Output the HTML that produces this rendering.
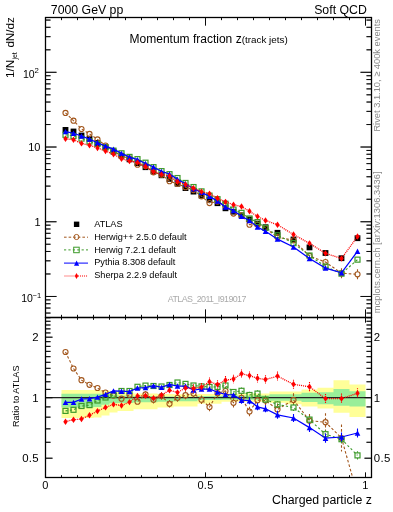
<!DOCTYPE html>
<html><head><meta charset="utf-8"><style>
html,body{margin:0;padding:0;background:#fff;width:393px;height:512px;overflow:hidden}
svg{display:block;will-change:transform}
text{-webkit-font-smoothing:antialiased}
</style></head><body>
<svg width="393" height="512" viewBox="0 0 393 512">
<path d="M45.50 17.5v8M45.50 317.5v-8M45.50 317.5v5M45.50 477.5v-5M61.50 17.5v2.6M61.50 317.5v-2.6M61.50 317.5v2.2M61.50 477.5v-2.2M77.50 17.5v2.6M77.50 317.5v-2.6M77.50 317.5v2.2M77.50 477.5v-2.2M93.50 17.5v2.6M93.50 317.5v-2.6M93.50 317.5v2.2M93.50 477.5v-2.2M109.50 17.5v2.6M109.50 317.5v-2.6M109.50 317.5v2.2M109.50 477.5v-2.2M125.50 17.5v2.6M125.50 317.5v-2.6M125.50 317.5v2.2M125.50 477.5v-2.2M141.50 17.5v2.6M141.50 317.5v-2.6M141.50 317.5v2.2M141.50 477.5v-2.2M157.50 17.5v2.6M157.50 317.5v-2.6M157.50 317.5v2.2M157.50 477.5v-2.2M173.50 17.5v2.6M173.50 317.5v-2.6M173.50 317.5v2.2M173.50 477.5v-2.2M189.50 17.5v2.6M189.50 317.5v-2.6M189.50 317.5v2.2M189.50 477.5v-2.2M205.50 17.5v8M205.50 317.5v-8M205.50 317.5v5M205.50 477.5v-5M221.50 17.5v2.6M221.50 317.5v-2.6M221.50 317.5v2.2M221.50 477.5v-2.2M237.50 17.5v2.6M237.50 317.5v-2.6M237.50 317.5v2.2M237.50 477.5v-2.2M253.50 17.5v2.6M253.50 317.5v-2.6M253.50 317.5v2.2M253.50 477.5v-2.2M269.50 17.5v2.6M269.50 317.5v-2.6M269.50 317.5v2.2M269.50 477.5v-2.2M285.50 17.5v2.6M285.50 317.5v-2.6M285.50 317.5v2.2M285.50 477.5v-2.2M301.50 17.5v2.6M301.50 317.5v-2.6M301.50 317.5v2.2M301.50 477.5v-2.2M317.50 17.5v2.6M317.50 317.5v-2.6M317.50 317.5v2.2M317.50 477.5v-2.2M333.50 17.5v2.6M333.50 317.5v-2.6M333.50 317.5v2.2M333.50 477.5v-2.2M349.50 17.5v2.6M349.50 317.5v-2.6M349.50 317.5v2.2M349.50 477.5v-2.2M365.50 17.5v8M365.50 317.5v-8M365.50 317.5v5M365.50 477.5v-5M45.5 313.05h5M371.5 313.05h-5M45.5 308.04h5M371.5 308.04h-5M45.5 303.71h5M371.5 303.71h-5M45.5 299.89h5M371.5 299.89h-5M45.5 296.47h11M371.5 296.47h-11M45.5 273.98h5M371.5 273.98h-5M45.5 260.82h5M371.5 260.82h-5M45.5 251.48h5M371.5 251.48h-5M45.5 244.24h5M371.5 244.24h-5M45.5 238.33h5M371.5 238.33h-5M45.5 233.32h5M371.5 233.32h-5M45.5 228.99h5M371.5 228.99h-5M45.5 225.17h5M371.5 225.17h-5M45.5 221.75h11M371.5 221.75h-11M45.5 199.26h5M371.5 199.26h-5M45.5 186.10h5M371.5 186.10h-5M45.5 176.76h5M371.5 176.76h-5M45.5 169.52h5M371.5 169.52h-5M45.5 163.61h5M371.5 163.61h-5M45.5 158.60h5M371.5 158.60h-5M45.5 154.27h5M371.5 154.27h-5M45.5 150.45h5M371.5 150.45h-5M45.5 147.03h11M371.5 147.03h-11M45.5 124.54h5M371.5 124.54h-5M45.5 111.38h5M371.5 111.38h-5M45.5 102.04h5M371.5 102.04h-5M45.5 94.80h5M371.5 94.80h-5M45.5 88.89h5M371.5 88.89h-5M45.5 83.88h5M371.5 83.88h-5M45.5 79.55h5M371.5 79.55h-5M45.5 75.73h5M371.5 75.73h-5M45.5 72.31h11M371.5 72.31h-11M45.5 49.82h5M371.5 49.82h-5M45.5 36.66h5M371.5 36.66h-5M45.5 27.32h5M371.5 27.32h-5M45.5 20.08h5M371.5 20.08h-5M45.5 458.21h7M371.5 458.21h-7M45.5 442.29h5M371.5 442.29h-5M45.5 428.84h5M371.5 428.84h-5M45.5 417.18h5M371.5 417.18h-5M45.5 406.90h5M371.5 406.90h-5M45.5 397.70h7M371.5 397.70h-7M45.5 389.38h5M371.5 389.38h-5M45.5 381.78h5M371.5 381.78h-5M45.5 374.80h5M371.5 374.80h-5M45.5 368.33h5M371.5 368.33h-5M45.5 362.31h5M371.5 362.31h-5M45.5 356.67h5M371.5 356.67h-5M45.5 351.38h5M371.5 351.38h-5M45.5 346.39h5M371.5 346.39h-5M45.5 341.67h5M371.5 341.67h-5M45.5 337.19h7M371.5 337.19h-7M45.5 332.93h5M371.5 332.93h-5M45.5 328.87h5M371.5 328.87h-5M45.5 324.99h5M371.5 324.99h-5M45.5 321.28h5M371.5 321.28h-5M45.5 317.71h5M371.5 317.71h-5" stroke="#000" stroke-width="0.8" fill="none"/>
<rect x="45.5" y="17.5" width="326.0" height="300.0" fill="none" stroke="#000" stroke-width="1.15"/>
<rect x="45.5" y="317.5" width="326.0" height="160.0" fill="none" stroke="#000" stroke-width="1.15"/>
<text x="50.8" y="14.1" font-size="12.3" font-family="Liberation Sans, sans-serif">7000 GeV pp</text>
<text x="366.8" y="14.1" font-size="12.3" text-anchor="end" font-family="Liberation Sans, sans-serif">Soft QCD</text>
<text x="129.6" y="42.9" font-size="12" font-family="Liberation Sans, sans-serif">Momentum fraction z<tspan font-size="9.9" dy="0.2">(track jets)</tspan></text>
<text transform="translate(14.0,17.3) rotate(-90)" font-size="11.6" text-anchor="end" font-family="Liberation Sans, sans-serif">1/N<tspan font-size="7" dy="2.6" dx="0.3">jet</tspan><tspan dy="-2.6" dx="4.6">dN/dz</tspan></text>
<text x="34.6" y="77.8" font-size="10.5" text-anchor="end" font-family="Liberation Sans, sans-serif">10</text><text x="34.6" y="72.9" font-size="7.8" font-family="Liberation Sans, sans-serif">2</text>
<text x="40.5" y="151" font-size="11" text-anchor="end" font-family="Liberation Sans, sans-serif">10</text>
<text x="40.5" y="225.9" font-size="11" text-anchor="end" font-family="Liberation Sans, sans-serif">1</text>
<text x="32.9" y="301.9" font-size="10.5" text-anchor="end" font-family="Liberation Sans, sans-serif">10</text><text x="32.5" y="297.6" font-size="7.5" font-family="Liberation Sans, sans-serif">&#8722;1</text>
<text x="38.9" y="341.4" font-size="11.4" text-anchor="end" letter-spacing="0.3" font-family="Liberation Sans, sans-serif">2</text>
<text x="373.8" y="341.4" font-size="11.4" letter-spacing="0.3" font-family="Liberation Sans, sans-serif">2</text>
<text x="38.9" y="401.9" font-size="11.4" text-anchor="end" letter-spacing="0.3" font-family="Liberation Sans, sans-serif">1</text>
<text x="373.8" y="401.9" font-size="11.4" letter-spacing="0.3" font-family="Liberation Sans, sans-serif">1</text>
<text x="38.9" y="462.4" font-size="11.4" text-anchor="end" letter-spacing="0.3" font-family="Liberation Sans, sans-serif">0.5</text>
<text x="373.8" y="462.4" font-size="11.4" letter-spacing="0.3" font-family="Liberation Sans, sans-serif">0.5</text>
<text transform="translate(19,427) rotate(-90)" font-size="9.1" font-family="Liberation Sans, sans-serif">Ratio to ATLAS</text>
<text x="45.5" y="489.2" font-size="11" text-anchor="middle" letter-spacing="0.3" font-family="Liberation Sans, sans-serif">0</text>
<text x="205.5" y="489.2" font-size="11" text-anchor="middle" letter-spacing="0.3" font-family="Liberation Sans, sans-serif">0.5</text>
<text x="365.5" y="489.2" font-size="11" text-anchor="middle" letter-spacing="0.3" font-family="Liberation Sans, sans-serif">1</text>
<text x="371.8" y="503.9" font-size="12.3" text-anchor="end" font-family="Liberation Sans, sans-serif">Charged particle z</text>
<text transform="translate(380.3,19) rotate(-90)" font-size="9.3" text-anchor="end" fill="#888" font-family="Liberation Sans, sans-serif">Rivet 3.1.10, &#8805; 400k events</text>
<text transform="translate(380.3,171.5) rotate(-90)" font-size="9.4" text-anchor="end" fill="#888" font-family="Liberation Sans, sans-serif">mcplots.cern.ch [arXiv:1306.3436]</text>
<text x="167.8" y="302.1" font-size="8.9" textLength="78.6" lengthAdjust="spacing" fill="#aaa" font-family="Liberation Sans, sans-serif">ATLAS_2011_I919017</text>
<defs><clipPath id="cm"><rect x="45.5" y="17.5" width="326" height="300"/></clipPath><clipPath id="cr"><rect x="45.5" y="317.5" width="326" height="160"/></clipPath></defs>
<path d="M61.50 390.0H69.50V418.0H61.50ZM69.50 390.0H77.50V418.0H69.50ZM77.50 390.0H85.50V418.0H77.50ZM85.50 390.0H93.50V418.0H85.50ZM93.50 390.0H101.50V417.5H93.50ZM101.50 390.5H109.50V415.5H101.50ZM109.50 391.0H117.50V412.5H109.50ZM117.50 392.5H125.50V411.0H117.50ZM125.50 392.5H133.50V411.0H125.50ZM133.50 393.4H141.50V409.3H133.50ZM141.50 393.4H149.50V409.3H141.50ZM149.50 393.4H157.50V409.3H149.50ZM157.50 394.0H165.50V407.4H157.50ZM165.50 394.0H173.50V407.4H165.50ZM173.50 394.2H181.50V406.4H173.50ZM181.50 394.2H189.50V406.4H181.50ZM189.50 394.2H197.50V406.4H189.50ZM197.50 394.0H205.50V403.8H197.50ZM205.50 394.0H213.50V403.8H205.50ZM213.50 394.0H221.50V403.8H213.50ZM221.50 393.5H229.50V401.8H221.50ZM229.50 393.5H237.50V401.8H229.50ZM237.50 393.5H245.50V401.8H237.50ZM245.50 393.5H253.50V401.8H245.50ZM253.50 393.5H261.50V401.8H253.50ZM261.50 393.5H269.50V401.8H261.50ZM269.50 391.4H285.50V402.8H269.50ZM285.50 391.4H301.50V404.2H285.50ZM301.50 389.4H317.50V406.5H301.50ZM317.50 387.7H333.50V408.5H317.50ZM333.50 380.2H349.50V412.7H333.50ZM349.50 384.5H365.50V417.0H349.50Z" fill="#ffff99"/>
<path d="M61.50 393.8H69.50V407.5H61.50ZM69.50 393.8H77.50V407.5H69.50ZM77.50 393.8H85.50V407.5H77.50ZM85.50 393.8H93.50V407.5H85.50ZM93.50 393.8H101.50V406.9H93.50ZM101.50 394.0H109.50V404.8H101.50ZM109.50 394.5H117.50V403.3H109.50ZM117.50 395.5H125.50V403.0H117.50ZM125.50 395.5H133.50V403.0H125.50ZM133.50 395.9H141.50V402.3H133.50ZM141.50 395.9H149.50V402.3H141.50ZM149.50 395.9H157.50V402.3H149.50ZM157.50 396.5H165.50V401.7H157.50ZM165.50 396.5H173.50V401.7H165.50ZM173.50 396.8H181.50V401.3H173.50ZM181.50 396.8H189.50V401.3H181.50ZM189.50 396.8H197.50V401.3H189.50ZM197.50 396.0H205.50V400.0H197.50ZM205.50 396.0H213.50V400.0H205.50ZM213.50 396.0H221.50V400.0H213.50ZM221.50 395.5H229.50V399.8H221.50ZM229.50 395.5H237.50V399.8H229.50ZM237.50 395.5H245.50V399.8H237.50ZM245.50 395.5H253.50V399.8H245.50ZM253.50 395.5H261.50V399.8H253.50ZM261.50 395.5H269.50V399.8H261.50ZM269.50 394.2H285.50V400.8H269.50ZM285.50 394.2H301.50V400.8H285.50ZM301.50 392.8H317.50V401.9H301.50ZM317.50 392.2H333.50V404.2H317.50ZM333.50 389.0H349.50V405.8H333.50ZM349.50 391.2H365.50V406.5H349.50Z" fill="#99ee99"/>
<path d="M45.5 397.7H371.5" stroke="#222" stroke-width="1.2"/>
<g clip-path="url(#cr)">
<path d="M65.50 352.00 L73.50 368.50 L81.50 380.20 L89.50 384.80 L97.50 388.00 L105.50 392.60 L113.50 395.60 L121.50 398.70 L129.50 394.80 L137.50 401.70 L145.50 394.40 L153.50 399.80 L161.50 396.00 L169.50 403.80 L177.50 397.80 L185.50 395.20 L193.50 393.50 L201.50 399.70 L209.50 407.00 L217.50 393.20 L225.50 391.00 L233.50 402.80 L241.50 397.80 L249.50 411.50 L257.50 400.20 L265.50 400.50 L277.50 409.40 L293.50 399.90 L309.50 420.70 L325.50 422.20 L341.50 438.00 L357.50 494.81" fill="none" stroke="#a2561c" stroke-width="1.1" stroke-dasharray="2.6 2"/>
<path d="M145.50 390.90V391.80M145.50 397.00V397.90M153.50 396.20V397.20M153.50 402.40V403.40M161.50 392.30V393.40M161.50 398.60V399.70M169.50 400.00V401.20M169.50 406.40V407.60M177.50 393.90V395.20M177.50 400.40V401.70M185.50 391.20V392.60M185.50 397.80V399.20M193.50 389.40V390.90M193.50 396.10V397.60M201.50 395.50V397.10M201.50 402.30V403.90M209.50 402.70V404.40M209.50 409.60V411.30M217.50 388.80V390.60M217.50 395.80V397.60M225.50 386.50V388.40M225.50 393.60V395.50M233.50 398.20V400.20M233.50 405.40V407.40M241.50 393.10V395.20M241.50 400.40V402.50M249.50 406.70V408.90M249.50 414.10V416.30M257.50 395.30V397.60M257.50 402.80V405.10M265.50 395.50V397.90M265.50 403.10V405.50M277.50 403.40V406.80M277.50 412.00V415.40M293.50 393.30V397.30M293.50 402.50V406.50M309.50 414.10V418.10M309.50 423.30V427.30M325.50 413.20V419.60M325.50 424.80V431.20M341.50 424.50V435.40M341.50 440.60V451.50M357.50 481.31V492.21M357.50 497.41V508.31" fill="none" stroke="#a2561c" stroke-width="1.1" stroke-dasharray="2.6 2"/>
<g fill="none" stroke="#a2561c" stroke-width="1.1"><circle cx="65.50" cy="352.00" r="2.55"/><circle cx="73.50" cy="368.50" r="2.55"/><circle cx="81.50" cy="380.20" r="2.55"/><circle cx="89.50" cy="384.80" r="2.55"/><circle cx="97.50" cy="388.00" r="2.55"/><circle cx="105.50" cy="392.60" r="2.55"/><circle cx="113.50" cy="395.60" r="2.55"/><circle cx="121.50" cy="398.70" r="2.55"/><circle cx="129.50" cy="394.80" r="2.55"/><circle cx="137.50" cy="401.70" r="2.55"/><circle cx="145.50" cy="394.40" r="2.55"/><circle cx="153.50" cy="399.80" r="2.55"/><circle cx="161.50" cy="396.00" r="2.55"/><circle cx="169.50" cy="403.80" r="2.55"/><circle cx="177.50" cy="397.80" r="2.55"/><circle cx="185.50" cy="395.20" r="2.55"/><circle cx="193.50" cy="393.50" r="2.55"/><circle cx="201.50" cy="399.70" r="2.55"/><circle cx="209.50" cy="407.00" r="2.55"/><circle cx="217.50" cy="393.20" r="2.55"/><circle cx="225.50" cy="391.00" r="2.55"/><circle cx="233.50" cy="402.80" r="2.55"/><circle cx="241.50" cy="397.80" r="2.55"/><circle cx="249.50" cy="411.50" r="2.55"/><circle cx="257.50" cy="400.20" r="2.55"/><circle cx="265.50" cy="400.50" r="2.55"/><circle cx="277.50" cy="409.40" r="2.55"/><circle cx="293.50" cy="399.90" r="2.55"/><circle cx="309.50" cy="420.70" r="2.55"/><circle cx="325.50" cy="422.20" r="2.55"/><circle cx="341.50" cy="438.00" r="2.55"/><circle cx="357.50" cy="494.81" r="2.55"/></g>
</g>
<g clip-path="url(#cr)">
<path d="M65.50 410.90 L73.50 409.80 L81.50 406.00 L89.50 405.10 L97.50 400.50 L105.50 397.50 L113.50 394.90 L121.50 391.00 L129.50 391.00 L137.50 386.80 L145.50 385.60 L153.50 386.00 L161.50 386.50 L169.50 385.00 L177.50 382.50 L185.50 383.90 L193.50 385.50 L201.50 386.40 L209.50 387.00 L217.50 386.90 L225.50 385.50 L233.50 392.00 L241.50 390.80 L249.50 395.00 L257.50 393.60 L265.50 399.50 L277.50 404.40 L293.50 407.50 L309.50 419.60 L325.50 434.20 L341.50 439.20 L357.50 455.40" fill="none" stroke="#3d9a2a" stroke-width="1.1" stroke-dasharray="2.2 2.2"/>
<path d="M241.50 387.50V388.20M241.50 393.40V394.10M249.50 391.70V392.40M249.50 397.60V398.30M257.50 390.30V391.00M257.50 396.20V396.90M265.50 396.20V396.90M265.50 402.10V402.80M277.50 400.90V401.80M277.50 407.00V407.90M293.50 404.00V404.90M293.50 410.10V411.00M309.50 415.80V417.00M309.50 422.20V423.40M325.50 430.20V431.60M325.50 436.80V438.20M341.50 435.20V436.60M341.50 441.80V443.20M357.50 451.20V452.80M357.50 458.00V459.60" fill="none" stroke="#3d9a2a" stroke-width="1.1" stroke-dasharray="2.2 2.2"/>
<g fill="none" stroke="#3d9a2a" stroke-width="1.2"><rect x="63.00" y="408.40" width="5.00" height="5.00"/><rect x="71.00" y="407.30" width="5.00" height="5.00"/><rect x="79.00" y="403.50" width="5.00" height="5.00"/><rect x="87.00" y="402.60" width="5.00" height="5.00"/><rect x="95.00" y="398.00" width="5.00" height="5.00"/><rect x="103.00" y="395.00" width="5.00" height="5.00"/><rect x="111.00" y="392.40" width="5.00" height="5.00"/><rect x="119.00" y="388.50" width="5.00" height="5.00"/><rect x="127.00" y="388.50" width="5.00" height="5.00"/><rect x="135.00" y="384.30" width="5.00" height="5.00"/><rect x="143.00" y="383.10" width="5.00" height="5.00"/><rect x="151.00" y="383.50" width="5.00" height="5.00"/><rect x="159.00" y="384.00" width="5.00" height="5.00"/><rect x="167.00" y="382.50" width="5.00" height="5.00"/><rect x="175.00" y="380.00" width="5.00" height="5.00"/><rect x="183.00" y="381.40" width="5.00" height="5.00"/><rect x="191.00" y="383.00" width="5.00" height="5.00"/><rect x="199.00" y="383.90" width="5.00" height="5.00"/><rect x="207.00" y="384.50" width="5.00" height="5.00"/><rect x="215.00" y="384.40" width="5.00" height="5.00"/><rect x="223.00" y="383.00" width="5.00" height="5.00"/><rect x="231.00" y="389.50" width="5.00" height="5.00"/><rect x="239.00" y="388.30" width="5.00" height="5.00"/><rect x="247.00" y="392.50" width="5.00" height="5.00"/><rect x="255.00" y="391.10" width="5.00" height="5.00"/><rect x="263.00" y="397.00" width="5.00" height="5.00"/><rect x="275.00" y="401.90" width="5.00" height="5.00"/><rect x="291.00" y="405.00" width="5.00" height="5.00"/><rect x="307.00" y="417.10" width="5.00" height="5.00"/><rect x="323.00" y="431.70" width="5.00" height="5.00"/><rect x="339.00" y="436.70" width="5.00" height="5.00"/><rect x="355.00" y="452.90" width="5.00" height="5.00"/></g>
</g>
<g clip-path="url(#cr)">
<path d="M65.50 402.40 L73.50 402.40 L81.50 399.00 L89.50 398.70 L97.50 397.10 L105.50 394.40 L113.50 390.90 L121.50 391.20 L129.50 391.50 L137.50 388.00 L145.50 387.60 L153.50 385.70 L161.50 387.40 L169.50 384.50 L177.50 386.00 L185.50 386.00 L193.50 390.00 L201.50 389.00 L209.50 389.00 L217.50 392.10 L225.50 394.50 L233.50 394.90 L241.50 400.20 L249.50 400.70 L257.50 406.80 L265.50 408.80 L277.50 414.80 L293.50 418.00 L309.50 427.60 L325.50 438.20 L341.50 437.00 L357.50 433.00" fill="none" stroke="#0000ff" stroke-width="1.25" />
<path d="M241.50 396.70V403.70M249.50 397.20V404.20M257.50 403.30V410.30M265.50 405.30V412.30M277.50 410.80V418.80M293.50 414.00V422.00M309.50 423.30V431.90M325.50 433.60V442.80M341.50 432.40V441.60M357.50 428.40V437.60" fill="none" stroke="#0000ff" stroke-width="1.1" />
<g fill="#0000ff"><path d="M65.50 399.70L68.30 405.10L62.70 405.10Z"/><path d="M73.50 399.70L76.30 405.10L70.70 405.10Z"/><path d="M81.50 396.30L84.30 401.70L78.70 401.70Z"/><path d="M89.50 396.00L92.30 401.40L86.70 401.40Z"/><path d="M97.50 394.40L100.30 399.80L94.70 399.80Z"/><path d="M105.50 391.70L108.30 397.10L102.70 397.10Z"/><path d="M113.50 388.20L116.30 393.60L110.70 393.60Z"/><path d="M121.50 388.50L124.30 393.90L118.70 393.90Z"/><path d="M129.50 388.80L132.30 394.20L126.70 394.20Z"/><path d="M137.50 385.30L140.30 390.70L134.70 390.70Z"/><path d="M145.50 384.90L148.30 390.30L142.70 390.30Z"/><path d="M153.50 383.00L156.30 388.40L150.70 388.40Z"/><path d="M161.50 384.70L164.30 390.10L158.70 390.10Z"/><path d="M169.50 381.80L172.30 387.20L166.70 387.20Z"/><path d="M177.50 383.30L180.30 388.70L174.70 388.70Z"/><path d="M185.50 383.30L188.30 388.70L182.70 388.70Z"/><path d="M193.50 387.30L196.30 392.70L190.70 392.70Z"/><path d="M201.50 386.30L204.30 391.70L198.70 391.70Z"/><path d="M209.50 386.30L212.30 391.70L206.70 391.70Z"/><path d="M217.50 389.40L220.30 394.80L214.70 394.80Z"/><path d="M225.50 391.80L228.30 397.20L222.70 397.20Z"/><path d="M233.50 392.20L236.30 397.60L230.70 397.60Z"/><path d="M241.50 397.50L244.30 402.90L238.70 402.90Z"/><path d="M249.50 398.00L252.30 403.40L246.70 403.40Z"/><path d="M257.50 404.10L260.30 409.50L254.70 409.50Z"/><path d="M265.50 406.10L268.30 411.50L262.70 411.50Z"/><path d="M277.50 412.10L280.30 417.50L274.70 417.50Z"/><path d="M293.50 415.30L296.30 420.70L290.70 420.70Z"/><path d="M309.50 424.90L312.30 430.30L306.70 430.30Z"/><path d="M325.50 435.50L328.30 440.90L322.70 440.90Z"/><path d="M341.50 434.30L344.30 439.70L338.70 439.70Z"/><path d="M357.50 430.30L360.30 435.70L354.70 435.70Z"/></g>
</g>
<g clip-path="url(#cr)">
<path d="M65.50 421.70 L73.50 419.70 L81.50 419.00 L89.50 415.20 L97.50 411.10 L105.50 407.40 L113.50 404.40 L121.50 405.50 L129.50 402.10 L137.50 396.00 L145.50 395.80 L153.50 398.20 L161.50 395.20 L169.50 390.20 L177.50 392.50 L185.50 388.00 L193.50 388.50 L201.50 387.10 L209.50 381.70 L217.50 384.50 L225.50 380.30 L233.50 379.00 L241.50 373.70 L249.50 375.60 L257.50 378.30 L265.50 379.50 L277.50 376.10 L293.50 384.30 L309.50 386.80 L325.50 398.60 L341.50 398.60 L357.50 393.30" fill="none" stroke="#ff0000" stroke-width="1.3" stroke-dasharray="1.05 0.95"/>
<path d="M193.50 384.30V392.70M201.50 382.90V391.30M209.50 377.50V385.90M217.50 380.30V388.70M225.50 376.10V384.50M233.50 374.80V383.20M241.50 369.50V377.90M249.50 371.40V379.80M257.50 374.10V382.50M265.50 375.30V383.70M277.50 371.60V380.60M293.50 379.80V388.80M309.50 382.10V391.50M325.50 393.90V403.30M341.50 393.60V403.60M357.50 388.30V398.30" fill="none" stroke="#ff0000" stroke-width="1.1" stroke-dasharray="1.05 0.95"/>
<g fill="#ff0000"><path d="M65.50 418.50L67.70 421.70L65.50 424.90L63.30 421.70Z"/><path d="M73.50 416.50L75.70 419.70L73.50 422.90L71.30 419.70Z"/><path d="M81.50 415.80L83.70 419.00L81.50 422.20L79.30 419.00Z"/><path d="M89.50 412.00L91.70 415.20L89.50 418.40L87.30 415.20Z"/><path d="M97.50 407.90L99.70 411.10L97.50 414.30L95.30 411.10Z"/><path d="M105.50 404.20L107.70 407.40L105.50 410.60L103.30 407.40Z"/><path d="M113.50 401.20L115.70 404.40L113.50 407.60L111.30 404.40Z"/><path d="M121.50 402.30L123.70 405.50L121.50 408.70L119.30 405.50Z"/><path d="M129.50 398.90L131.70 402.10L129.50 405.30L127.30 402.10Z"/><path d="M137.50 392.80L139.70 396.00L137.50 399.20L135.30 396.00Z"/><path d="M145.50 392.60L147.70 395.80L145.50 399.00L143.30 395.80Z"/><path d="M153.50 395.00L155.70 398.20L153.50 401.40L151.30 398.20Z"/><path d="M161.50 392.00L163.70 395.20L161.50 398.40L159.30 395.20Z"/><path d="M169.50 387.00L171.70 390.20L169.50 393.40L167.30 390.20Z"/><path d="M177.50 389.30L179.70 392.50L177.50 395.70L175.30 392.50Z"/><path d="M185.50 384.80L187.70 388.00L185.50 391.20L183.30 388.00Z"/><path d="M193.50 385.30L195.70 388.50L193.50 391.70L191.30 388.50Z"/><path d="M201.50 383.90L203.70 387.10L201.50 390.30L199.30 387.10Z"/><path d="M209.50 378.50L211.70 381.70L209.50 384.90L207.30 381.70Z"/><path d="M217.50 381.30L219.70 384.50L217.50 387.70L215.30 384.50Z"/><path d="M225.50 377.10L227.70 380.30L225.50 383.50L223.30 380.30Z"/><path d="M233.50 375.80L235.70 379.00L233.50 382.20L231.30 379.00Z"/><path d="M241.50 370.50L243.70 373.70L241.50 376.90L239.30 373.70Z"/><path d="M249.50 372.40L251.70 375.60L249.50 378.80L247.30 375.60Z"/><path d="M257.50 375.10L259.70 378.30L257.50 381.50L255.30 378.30Z"/><path d="M265.50 376.30L267.70 379.50L265.50 382.70L263.30 379.50Z"/><path d="M277.50 372.90L279.70 376.10L277.50 379.30L275.30 376.10Z"/><path d="M293.50 381.10L295.70 384.30L293.50 387.50L291.30 384.30Z"/><path d="M309.50 383.60L311.70 386.80L309.50 390.00L307.30 386.80Z"/><path d="M325.50 395.40L327.70 398.60L325.50 401.80L323.30 398.60Z"/><path d="M341.50 395.40L343.70 398.60L341.50 401.80L339.30 398.60Z"/><path d="M357.50 390.10L359.70 393.30L357.50 396.50L355.30 393.30Z"/></g>
</g>
<g clip-path="url(#cm)">
<g fill="#000"><rect x="62.60" y="127.00" width="5.80" height="5.80"/><rect x="70.60" y="128.60" width="5.80" height="5.80"/><rect x="78.60" y="132.60" width="5.80" height="5.80"/><rect x="86.60" y="135.80" width="5.80" height="5.80"/><rect x="94.60" y="140.10" width="5.80" height="5.80"/><rect x="102.60" y="144.50" width="5.80" height="5.80"/><rect x="110.60" y="148.80" width="5.80" height="5.80"/><rect x="118.60" y="152.90" width="5.80" height="5.80"/><rect x="126.60" y="156.50" width="5.80" height="5.80"/><rect x="134.60" y="160.30" width="5.80" height="5.80"/><rect x="142.60" y="164.30" width="5.80" height="5.80"/><rect x="150.60" y="168.60" width="5.80" height="5.80"/><rect x="158.60" y="172.40" width="5.80" height="5.80"/><rect x="166.60" y="176.00" width="5.80" height="5.80"/><rect x="174.60" y="180.80" width="5.80" height="5.80"/><rect x="182.60" y="185.20" width="5.80" height="5.80"/><rect x="190.60" y="188.70" width="5.80" height="5.80"/><rect x="198.60" y="192.70" width="5.80" height="5.80"/><rect x="206.60" y="196.70" width="5.80" height="5.80"/><rect x="214.60" y="200.30" width="5.80" height="5.80"/><rect x="222.60" y="205.40" width="5.80" height="5.80"/><rect x="230.60" y="208.80" width="5.80" height="5.80"/><rect x="238.60" y="212.50" width="5.80" height="5.80"/><rect x="246.60" y="216.60" width="5.80" height="5.80"/><rect x="254.60" y="220.70" width="5.80" height="5.80"/><rect x="262.60" y="224.30" width="5.80" height="5.80"/><rect x="274.60" y="229.90" width="5.80" height="5.80"/><rect x="290.60" y="236.60" width="5.80" height="5.80"/><rect x="306.60" y="244.50" width="5.80" height="5.80"/><rect x="322.60" y="250.10" width="5.80" height="5.80"/><rect x="338.60" y="255.30" width="5.80" height="5.80"/><rect x="354.60" y="235.30" width="5.80" height="5.80"/></g>
</g>
<g clip-path="url(#cm)">
<path d="M65.50 112.91 L73.50 120.65 L81.50 128.99 L89.50 133.90 L97.50 139.39 L105.50 145.50 L113.50 150.92 L121.50 156.17 L129.50 158.32 L137.50 164.69 L145.50 165.97 L153.50 172.28 L161.50 174.67 L169.50 181.17 L177.50 183.74 L185.50 187.17 L193.50 190.04 L201.50 196.34 L209.50 203.06 L217.50 201.53 L225.50 205.81 L233.50 213.60 L241.50 215.44 L249.50 224.63 L257.50 224.53 L265.50 228.24 L277.50 237.15 L293.50 240.32 L309.50 255.95 L325.50 262.11 L341.50 273.18 L357.50 274.30" fill="none" stroke="#a2561c" stroke-width="1.1" stroke-dasharray="2.6 2"/>
<path d="M325.50 258.76V259.51M325.50 264.71V265.45M341.50 268.16V270.58M341.50 275.78V278.20M357.50 269.28V271.70M357.50 276.90V279.32" fill="none" stroke="#a2561c" stroke-width="1.1" stroke-dasharray="2.6 2"/>
<g fill="none" stroke="#a2561c" stroke-width="1.1"><circle cx="65.50" cy="112.91" r="2.55"/><circle cx="73.50" cy="120.65" r="2.55"/><circle cx="81.50" cy="128.99" r="2.55"/><circle cx="89.50" cy="133.90" r="2.55"/><circle cx="97.50" cy="139.39" r="2.55"/><circle cx="105.50" cy="145.50" r="2.55"/><circle cx="113.50" cy="150.92" r="2.55"/><circle cx="121.50" cy="156.17" r="2.55"/><circle cx="129.50" cy="158.32" r="2.55"/><circle cx="137.50" cy="164.69" r="2.55"/><circle cx="145.50" cy="165.97" r="2.55"/><circle cx="153.50" cy="172.28" r="2.55"/><circle cx="161.50" cy="174.67" r="2.55"/><circle cx="169.50" cy="181.17" r="2.55"/><circle cx="177.50" cy="183.74" r="2.55"/><circle cx="185.50" cy="187.17" r="2.55"/><circle cx="193.50" cy="190.04" r="2.55"/><circle cx="201.50" cy="196.34" r="2.55"/><circle cx="209.50" cy="203.06" r="2.55"/><circle cx="217.50" cy="201.53" r="2.55"/><circle cx="225.50" cy="205.81" r="2.55"/><circle cx="233.50" cy="213.60" r="2.55"/><circle cx="241.50" cy="215.44" r="2.55"/><circle cx="249.50" cy="224.63" r="2.55"/><circle cx="257.50" cy="224.53" r="2.55"/><circle cx="265.50" cy="228.24" r="2.55"/><circle cx="277.50" cy="237.15" r="2.55"/><circle cx="293.50" cy="240.32" r="2.55"/><circle cx="309.50" cy="255.95" r="2.55"/><circle cx="325.50" cy="262.11" r="2.55"/><circle cx="341.50" cy="273.18" r="2.55"/><circle cx="357.50" cy="274.30" r="2.55"/></g>
</g>
<g clip-path="url(#cm)">
<path d="M65.50 134.81 L73.50 136.00 L81.50 138.59 L89.50 141.45 L97.50 144.04 L105.50 147.33 L113.50 150.66 L121.50 153.31 L129.50 156.91 L137.50 159.15 L145.50 162.70 L153.50 167.15 L161.50 171.14 L169.50 174.18 L177.50 178.05 L185.50 182.97 L193.50 187.06 L201.50 191.40 L209.50 195.62 L217.50 199.19 L225.50 203.76 L233.50 209.58 L241.50 212.83 L249.50 218.50 L257.50 222.08 L265.50 227.87 L277.50 235.29 L293.50 243.14 L309.50 255.54 L325.50 266.57 L341.50 273.63 L357.50 259.65" fill="none" stroke="#3d9a2a" stroke-width="1.1" stroke-dasharray="2.2 2.2"/>
<g fill="none" stroke="#3d9a2a" stroke-width="1.2"><rect x="63.00" y="132.31" width="5.00" height="5.00"/><rect x="71.00" y="133.50" width="5.00" height="5.00"/><rect x="79.00" y="136.09" width="5.00" height="5.00"/><rect x="87.00" y="138.95" width="5.00" height="5.00"/><rect x="95.00" y="141.54" width="5.00" height="5.00"/><rect x="103.00" y="144.83" width="5.00" height="5.00"/><rect x="111.00" y="148.16" width="5.00" height="5.00"/><rect x="119.00" y="150.81" width="5.00" height="5.00"/><rect x="127.00" y="154.41" width="5.00" height="5.00"/><rect x="135.00" y="156.65" width="5.00" height="5.00"/><rect x="143.00" y="160.20" width="5.00" height="5.00"/><rect x="151.00" y="164.65" width="5.00" height="5.00"/><rect x="159.00" y="168.64" width="5.00" height="5.00"/><rect x="167.00" y="171.68" width="5.00" height="5.00"/><rect x="175.00" y="175.55" width="5.00" height="5.00"/><rect x="183.00" y="180.47" width="5.00" height="5.00"/><rect x="191.00" y="184.56" width="5.00" height="5.00"/><rect x="199.00" y="188.90" width="5.00" height="5.00"/><rect x="207.00" y="193.12" width="5.00" height="5.00"/><rect x="215.00" y="196.69" width="5.00" height="5.00"/><rect x="223.00" y="201.26" width="5.00" height="5.00"/><rect x="231.00" y="207.08" width="5.00" height="5.00"/><rect x="239.00" y="210.33" width="5.00" height="5.00"/><rect x="247.00" y="216.00" width="5.00" height="5.00"/><rect x="255.00" y="219.58" width="5.00" height="5.00"/><rect x="263.00" y="225.37" width="5.00" height="5.00"/><rect x="275.00" y="232.79" width="5.00" height="5.00"/><rect x="291.00" y="240.64" width="5.00" height="5.00"/><rect x="307.00" y="253.04" width="5.00" height="5.00"/><rect x="323.00" y="264.07" width="5.00" height="5.00"/><rect x="339.00" y="271.13" width="5.00" height="5.00"/><rect x="355.00" y="257.15" width="5.00" height="5.00"/></g>
</g>
<g clip-path="url(#cm)">
<path d="M65.50 131.65 L73.50 133.25 L81.50 135.98 L89.50 139.07 L97.50 142.78 L105.50 146.17 L113.50 149.17 L121.50 153.38 L129.50 157.10 L137.50 159.59 L145.50 163.45 L153.50 167.04 L161.50 171.47 L169.50 173.99 L177.50 179.35 L185.50 183.75 L193.50 188.74 L201.50 192.37 L209.50 196.37 L217.50 201.12 L225.50 207.11 L233.50 210.66 L241.50 216.33 L249.50 220.62 L257.50 226.98 L265.50 231.33 L277.50 239.16 L293.50 247.05 L309.50 258.52 L325.50 268.06 L341.50 272.81 L357.50 251.32" fill="none" stroke="#0000ff" stroke-width="1.25" />
<g fill="#0000ff"><path d="M65.50 128.95L68.30 134.35L62.70 134.35Z"/><path d="M73.50 130.55L76.30 135.95L70.70 135.95Z"/><path d="M81.50 133.28L84.30 138.68L78.70 138.68Z"/><path d="M89.50 136.37L92.30 141.77L86.70 141.77Z"/><path d="M97.50 140.08L100.30 145.48L94.70 145.48Z"/><path d="M105.50 143.47L108.30 148.87L102.70 148.87Z"/><path d="M113.50 146.47L116.30 151.87L110.70 151.87Z"/><path d="M121.50 150.68L124.30 156.08L118.70 156.08Z"/><path d="M129.50 154.40L132.30 159.80L126.70 159.80Z"/><path d="M137.50 156.89L140.30 162.29L134.70 162.29Z"/><path d="M145.50 160.75L148.30 166.15L142.70 166.15Z"/><path d="M153.50 164.34L156.30 169.74L150.70 169.74Z"/><path d="M161.50 168.77L164.30 174.17L158.70 174.17Z"/><path d="M169.50 171.29L172.30 176.69L166.70 176.69Z"/><path d="M177.50 176.65L180.30 182.05L174.70 182.05Z"/><path d="M185.50 181.05L188.30 186.45L182.70 186.45Z"/><path d="M193.50 186.04L196.30 191.44L190.70 191.44Z"/><path d="M201.50 189.67L204.30 195.07L198.70 195.07Z"/><path d="M209.50 193.67L212.30 199.07L206.70 199.07Z"/><path d="M217.50 198.42L220.30 203.82L214.70 203.82Z"/><path d="M225.50 204.41L228.30 209.81L222.70 209.81Z"/><path d="M233.50 207.96L236.30 213.36L230.70 213.36Z"/><path d="M241.50 213.63L244.30 219.03L238.70 219.03Z"/><path d="M249.50 217.92L252.30 223.32L246.70 223.32Z"/><path d="M257.50 224.28L260.30 229.68L254.70 229.68Z"/><path d="M265.50 228.63L268.30 234.03L262.70 234.03Z"/><path d="M277.50 236.46L280.30 241.86L274.70 241.86Z"/><path d="M293.50 244.35L296.30 249.75L290.70 249.75Z"/><path d="M309.50 255.82L312.30 261.22L306.70 261.22Z"/><path d="M325.50 265.36L328.30 270.76L322.70 270.76Z"/><path d="M341.50 270.11L344.30 275.51L338.70 275.51Z"/><path d="M357.50 248.62L360.30 254.02L354.70 254.02Z"/></g>
</g>
<g clip-path="url(#cm)">
<path d="M65.50 138.82 L73.50 139.68 L81.50 143.42 L89.50 145.21 L97.50 147.98 L105.50 151.01 L113.50 154.19 L121.50 158.70 L129.50 161.04 L137.50 162.57 L145.50 166.49 L153.50 171.69 L161.50 174.37 L169.50 176.11 L177.50 181.77 L185.50 184.49 L193.50 188.18 L201.50 191.66 L209.50 193.65 L217.50 198.29 L225.50 201.83 L233.50 204.75 L241.50 206.48 L249.50 211.28 L257.50 216.39 L265.50 220.43 L277.50 224.77 L293.50 234.52 L309.50 243.35 L325.50 253.33 L341.50 258.53 L357.50 236.56" fill="none" stroke="#ff0000" stroke-width="1.3" stroke-dasharray="1.05 0.95"/>
<g fill="#ff0000"><path d="M65.50 135.62L67.70 138.82L65.50 142.02L63.30 138.82Z"/><path d="M73.50 136.48L75.70 139.68L73.50 142.88L71.30 139.68Z"/><path d="M81.50 140.22L83.70 143.42L81.50 146.62L79.30 143.42Z"/><path d="M89.50 142.01L91.70 145.21L89.50 148.41L87.30 145.21Z"/><path d="M97.50 144.78L99.70 147.98L97.50 151.18L95.30 147.98Z"/><path d="M105.50 147.81L107.70 151.01L105.50 154.21L103.30 151.01Z"/><path d="M113.50 150.99L115.70 154.19L113.50 157.39L111.30 154.19Z"/><path d="M121.50 155.50L123.70 158.70L121.50 161.90L119.30 158.70Z"/><path d="M129.50 157.84L131.70 161.04L129.50 164.24L127.30 161.04Z"/><path d="M137.50 159.37L139.70 162.57L137.50 165.77L135.30 162.57Z"/><path d="M145.50 163.29L147.70 166.49L145.50 169.69L143.30 166.49Z"/><path d="M153.50 168.49L155.70 171.69L153.50 174.89L151.30 171.69Z"/><path d="M161.50 171.17L163.70 174.37L161.50 177.57L159.30 174.37Z"/><path d="M169.50 172.91L171.70 176.11L169.50 179.31L167.30 176.11Z"/><path d="M177.50 178.57L179.70 181.77L177.50 184.97L175.30 181.77Z"/><path d="M185.50 181.29L187.70 184.49L185.50 187.69L183.30 184.49Z"/><path d="M193.50 184.98L195.70 188.18L193.50 191.38L191.30 188.18Z"/><path d="M201.50 188.46L203.70 191.66L201.50 194.86L199.30 191.66Z"/><path d="M209.50 190.45L211.70 193.65L209.50 196.85L207.30 193.65Z"/><path d="M217.50 195.09L219.70 198.29L217.50 201.49L215.30 198.29Z"/><path d="M225.50 198.63L227.70 201.83L225.50 205.03L223.30 201.83Z"/><path d="M233.50 201.55L235.70 204.75L233.50 207.95L231.30 204.75Z"/><path d="M241.50 203.28L243.70 206.48L241.50 209.68L239.30 206.48Z"/><path d="M249.50 208.08L251.70 211.28L249.50 214.48L247.30 211.28Z"/><path d="M257.50 213.19L259.70 216.39L257.50 219.59L255.30 216.39Z"/><path d="M265.50 217.23L267.70 220.43L265.50 223.63L263.30 220.43Z"/><path d="M277.50 221.57L279.70 224.77L277.50 227.97L275.30 224.77Z"/><path d="M293.50 231.32L295.70 234.52L293.50 237.72L291.30 234.52Z"/><path d="M309.50 240.15L311.70 243.35L309.50 246.55L307.30 243.35Z"/><path d="M325.50 250.13L327.70 253.33L325.50 256.53L323.30 253.33Z"/><path d="M341.50 255.33L343.70 258.53L341.50 261.73L339.30 258.53Z"/><path d="M357.50 233.36L359.70 236.56L357.50 239.76L355.30 236.56Z"/></g>
</g>
<path d="M64 237.2H88" stroke="#a2561c" stroke-width="1" stroke-dasharray="2.6 2"/><circle cx="76.5" cy="237" r="2.55" fill="none" stroke="#a2561c"/>
<path d="M64 249.9H88" stroke="#3d9a2a" stroke-width="1" stroke-dasharray="2.2 2.2"/><rect x="73.7" y="247.2" width="5.5" height="5.5" fill="none" stroke="#3d9a2a"/>
<path d="M64 263.1H88" stroke="#0000ff" stroke-width="1"/><path d="M76.6 260.4L79.2 265.8L74 265.8Z" fill="#0000ff"/>
<path d="M64 276H75" stroke="#ff0000" stroke-width="1" stroke-opacity="0.45"/><path d="M78 276H88" stroke="#ff0000" stroke-width="1.1" stroke-dasharray="1.05 0.95"/><path d="M76.5 272.9L78.2 276L76.5 279.1L74.8 276Z" fill="#ff0000"/>
<rect x="73.9" y="221.6" width="5.4" height="5.4" fill="#000"/>
<text x="94.2" y="226.7" font-size="9.2" font-family="Liberation Sans, sans-serif">ATLAS</text>
<text x="94.2" y="239.6" font-size="9.2" font-family="Liberation Sans, sans-serif">Herwig++ 2.5.0 default</text>
<text x="94.2" y="252.5" font-size="9.2" font-family="Liberation Sans, sans-serif">Herwig 7.2.1 default</text>
<text x="94.2" y="265.4" font-size="9.2" font-family="Liberation Sans, sans-serif">Pythia 8.308 default</text>
<text x="94.2" y="278.3" font-size="9.2" font-family="Liberation Sans, sans-serif">Sherpa 2.2.9 default</text>
<path d="M45.50 17.5v8M45.50 317.5v-8M45.50 317.5v5M45.50 477.5v-5M61.50 17.5v2.6M61.50 317.5v-2.6M61.50 317.5v2.2M61.50 477.5v-2.2M77.50 17.5v2.6M77.50 317.5v-2.6M77.50 317.5v2.2M77.50 477.5v-2.2M93.50 17.5v2.6M93.50 317.5v-2.6M93.50 317.5v2.2M93.50 477.5v-2.2M109.50 17.5v2.6M109.50 317.5v-2.6M109.50 317.5v2.2M109.50 477.5v-2.2M125.50 17.5v2.6M125.50 317.5v-2.6M125.50 317.5v2.2M125.50 477.5v-2.2M141.50 17.5v2.6M141.50 317.5v-2.6M141.50 317.5v2.2M141.50 477.5v-2.2M157.50 17.5v2.6M157.50 317.5v-2.6M157.50 317.5v2.2M157.50 477.5v-2.2M173.50 17.5v2.6M173.50 317.5v-2.6M173.50 317.5v2.2M173.50 477.5v-2.2M189.50 17.5v2.6M189.50 317.5v-2.6M189.50 317.5v2.2M189.50 477.5v-2.2M205.50 17.5v8M205.50 317.5v-8M205.50 317.5v5M205.50 477.5v-5M221.50 17.5v2.6M221.50 317.5v-2.6M221.50 317.5v2.2M221.50 477.5v-2.2M237.50 17.5v2.6M237.50 317.5v-2.6M237.50 317.5v2.2M237.50 477.5v-2.2M253.50 17.5v2.6M253.50 317.5v-2.6M253.50 317.5v2.2M253.50 477.5v-2.2M269.50 17.5v2.6M269.50 317.5v-2.6M269.50 317.5v2.2M269.50 477.5v-2.2M285.50 17.5v2.6M285.50 317.5v-2.6M285.50 317.5v2.2M285.50 477.5v-2.2M301.50 17.5v2.6M301.50 317.5v-2.6M301.50 317.5v2.2M301.50 477.5v-2.2M317.50 17.5v2.6M317.50 317.5v-2.6M317.50 317.5v2.2M317.50 477.5v-2.2M333.50 17.5v2.6M333.50 317.5v-2.6M333.50 317.5v2.2M333.50 477.5v-2.2M349.50 17.5v2.6M349.50 317.5v-2.6M349.50 317.5v2.2M349.50 477.5v-2.2M365.50 17.5v8M365.50 317.5v-8M365.50 317.5v5M365.50 477.5v-5M45.5 313.05h5M371.5 313.05h-5M45.5 308.04h5M371.5 308.04h-5M45.5 303.71h5M371.5 303.71h-5M45.5 299.89h5M371.5 299.89h-5M45.5 296.47h11M371.5 296.47h-11M45.5 273.98h5M371.5 273.98h-5M45.5 260.82h5M371.5 260.82h-5M45.5 251.48h5M371.5 251.48h-5M45.5 244.24h5M371.5 244.24h-5M45.5 238.33h5M371.5 238.33h-5M45.5 233.32h5M371.5 233.32h-5M45.5 228.99h5M371.5 228.99h-5M45.5 225.17h5M371.5 225.17h-5M45.5 221.75h11M371.5 221.75h-11M45.5 199.26h5M371.5 199.26h-5M45.5 186.10h5M371.5 186.10h-5M45.5 176.76h5M371.5 176.76h-5M45.5 169.52h5M371.5 169.52h-5M45.5 163.61h5M371.5 163.61h-5M45.5 158.60h5M371.5 158.60h-5M45.5 154.27h5M371.5 154.27h-5M45.5 150.45h5M371.5 150.45h-5M45.5 147.03h11M371.5 147.03h-11M45.5 124.54h5M371.5 124.54h-5M45.5 111.38h5M371.5 111.38h-5M45.5 102.04h5M371.5 102.04h-5M45.5 94.80h5M371.5 94.80h-5M45.5 88.89h5M371.5 88.89h-5M45.5 83.88h5M371.5 83.88h-5M45.5 79.55h5M371.5 79.55h-5M45.5 75.73h5M371.5 75.73h-5M45.5 72.31h11M371.5 72.31h-11M45.5 49.82h5M371.5 49.82h-5M45.5 36.66h5M371.5 36.66h-5M45.5 27.32h5M371.5 27.32h-5M45.5 20.08h5M371.5 20.08h-5M45.5 458.21h7M371.5 458.21h-7M45.5 442.29h5M371.5 442.29h-5M45.5 428.84h5M371.5 428.84h-5M45.5 417.18h5M371.5 417.18h-5M45.5 406.90h5M371.5 406.90h-5M45.5 397.70h7M371.5 397.70h-7M45.5 389.38h5M371.5 389.38h-5M45.5 381.78h5M371.5 381.78h-5M45.5 374.80h5M371.5 374.80h-5M45.5 368.33h5M371.5 368.33h-5M45.5 362.31h5M371.5 362.31h-5M45.5 356.67h5M371.5 356.67h-5M45.5 351.38h5M371.5 351.38h-5M45.5 346.39h5M371.5 346.39h-5M45.5 341.67h5M371.5 341.67h-5M45.5 337.19h7M371.5 337.19h-7M45.5 332.93h5M371.5 332.93h-5M45.5 328.87h5M371.5 328.87h-5M45.5 324.99h5M371.5 324.99h-5M45.5 321.28h5M371.5 321.28h-5M45.5 317.71h5M371.5 317.71h-5" stroke="#000" stroke-width="0.8" fill="none"/>
<rect x="45.5" y="17.5" width="326.0" height="300.0" fill="none" stroke="#000" stroke-width="1.15"/>
<rect x="45.5" y="317.5" width="326.0" height="160.0" fill="none" stroke="#000" stroke-width="1.15"/>
</svg>
</body></html>
